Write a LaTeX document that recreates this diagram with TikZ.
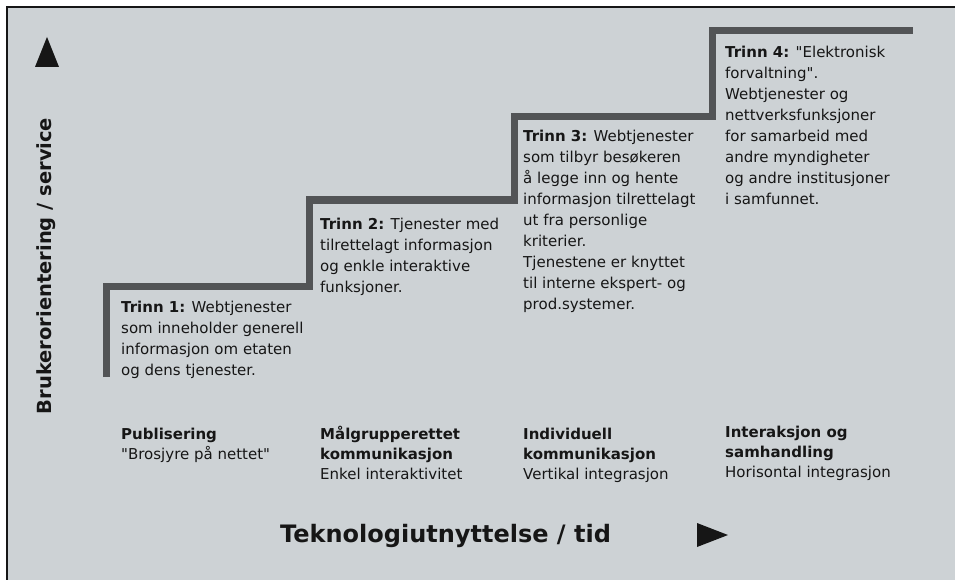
\documentclass[tikz,border=0pt]{standalone}
\usepackage{fontspec}
\setmainfont{DejaVu Sans}[Ligatures=TeXOff]
\definecolor{panel}{RGB}{205,210,213}
\definecolor{stairgrey}{RGB}{82,84,86}
\definecolor{ink}{RGB}{22,22,22}
\newcommand{\lineset}[1]{\begin{tabular}[t]{@{}l@{}}#1\end{tabular}}
\begin{document}
\begin{tikzpicture}[x=1pt,y=-1pt]
\tikzset{
  stair/.style={line width=7pt, draw=stairgrey, line join=miter},
  desc/.style={anchor=base west, inner sep=0pt, text=ink, font=\fontsize{15}{21}\selectfont},
  phase/.style={anchor=base west, inner sep=0pt, text=ink, font=\fontsize{15}{20}\selectfont},
  axislabel/.style={inner sep=0pt, text=ink, font=\fontsize{24}{28}\selectfont\bfseries},
  sidelabel/.style={inner sep=0pt, text=ink, font=\fontsize{19.5}{24}\selectfont\bfseries},
  tip/.style={fill=ink, draw=none}
}
\useasboundingbox (0,0) rectangle (955,580);
% panel with its left and top rule
\fill[panel] (7,7) rectangle (955,580);
\draw[line width=2pt, ink] (7,580) -- (7,7) -- (955,7);

% the staircase
\coordinate (s0) at (106,377);
\coordinate (s1) at (106,286);
\coordinate (s2) at (309,286);
\coordinate (s3) at (309,200);
\coordinate (s4) at (514,200);
\coordinate (s5) at (514,117);
\coordinate (s6) at (712,117);
\coordinate (s7) at (712,31);
\coordinate (s8) at (913,31);
\draw[stair] (s0) -- (s1) -- (s2) -- (s3) -- (s4) -- (s5) -- (s6) -- (s7) -- (s8);

% step descriptions
\node[desc] (t1) at (121,312) {\lineset{\textbf{Trinn 1:} Webtjenester\\som inneholder generell\\informasjon om etaten\\og dens tjenester.}};
\node[desc] (t2) at (320,229) {\lineset{\textbf{Trinn 2:} Tjenester med\\tilrettelagt informasjon\\og enkle interaktive\\funksjoner.}};
\node[desc] (t3) at (523,142) {\lineset{\textbf{Trinn 3:} Webtjenester\\som tilbyr besøkeren\\å legge inn og hente\\informasjon tilrettelagt\\ut fra personlige\\kriterier.\\Tjenestene er knyttet\\til interne ekspert- og\\prod.systemer.}};
\node[desc] (t4) at (725,58) {\lineset{\textbf{Trinn 4:} "Elektronisk\\forvaltning".\\Webtjenester og\\nettverksfunksjoner\\for samarbeid med\\andre myndigheter\\og andre institusjoner\\i samfunnet.}};

% phase labels
\node[phase] (p1) at (121,439) {\lineset{\textbf{Publisering}\\"Brosjyre på nettet"}};
\node[phase] (p2) at (320,439) {\lineset{\textbf{Målgrupperettet}\\\textbf{kommunikasjon}\\Enkel interaktivitet}};
\node[phase] (p3) at (523,439) {\lineset{\textbf{Individuell}\\\textbf{kommunikasjon}\\Vertikal integrasjon}};
\node[phase] (p4) at (725,437) {\lineset{\textbf{Interaksjon og}\\\textbf{samhandling}\\Horisontal integrasjon}};

% axes
\node[axislabel, anchor=base west] (xl) at (280,542) {Teknologiutnyttelse / tid};
\node[sidelabel, rotate=90] (yl) at (46,266) {Brukerorientering / service};
\fill[tip] (47,37) -- (59,67) -- (35,67) -- cycle;
\fill[tip] (697,523) -- (728,535) -- (697,547) -- cycle;
\end{tikzpicture}
\end{document}
